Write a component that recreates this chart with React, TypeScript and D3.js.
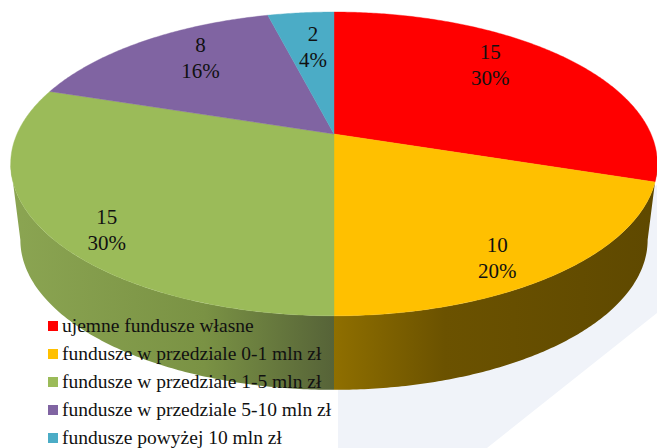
import React from 'react';
import * as d3 from 'd3';

const categories = [
  'ujemne fundusze własne',
  'fundusze w przedziale 0-1 mln zł',
  'fundusze w przedziale 1-5 mln zł',
  'fundusze w przedziale 5-10 mln zł',
  'fundusze powyżej 10 mln zł',
];
const counts = [15, 10, 15, 8, 2];
const percents = ['30%', '20%', '30%', '16%', '4%'];
const colors = ['#ff0000', '#ffc000', '#9bbb59', '#8064a2', '#4bacc6'];

const width = 657;
const height = 448;

// tilted disc: unit circle through a perspective map, apex sits above the ellipse centre
const apex = { x: 334, y: 134 };
const persp = { a: 317, b: 146, k: -0.197 };
const rim = { top: 164, bottom: 240, sx: 0.97, sy: 0.987 };

const project = (angle: number, r = 1): [number, number] => {
  const u = r * Math.sin(angle);
  const v = -r * Math.cos(angle);
  const w = 1 + persp.k * v;
  return [apex.x + (persp.a * u) / w, apex.y + (persp.b * v) / w];
};

const projectBottom = (angle: number): [number, number] => {
  const [x, y] = project(angle);
  return [apex.x + (x - apex.x) * rim.sx, rim.bottom + (y - rim.top) * rim.sy];
};

const line = d3.line();

const arcPoints = (from: number, to: number, fn: (a: number) => [number, number]) => {
  const n = Math.max(2, Math.ceil((to - from) / 0.01));
  return d3.range(n + 1).map((i) => fn(from + ((to - from) * i) / n));
};

const pie = d3.pie<number>().sort(null);
const arcs = pie(counts);

// angle of the widest point of the ellipse, where the side wall starts
const sideAngle = Math.acos(persp.k);

// label nudges away from the projected centroid
const labelOffsets = [
  [8, -12],
  [35, 50],
  [-56, 46],
  [-10, -8],
  [1, 0],
];

const legendX = 48;
const legendY = 321;
const legendStep = 28;

export default function App() {
  // only the yellow and green sides are visible
  const walls = [
    { i: 1, from: sideAngle, to: arcs[1].endAngle, fill: 'url(#wallYellow)' },
    { i: 2, from: arcs[2].startAngle, to: 2 * Math.PI - sideAngle, fill: 'url(#wallGreen)' },
  ];

  return (
    <svg
      width={width}
      height={height}
      style={{ position: 'absolute', left: 0, top: 0, background: '#fff' }}
      fontFamily="'Liberation Serif', serif"
    >
      <defs>
        <linearGradient id="wallYellow" gradientUnits="userSpaceOnUse" x1={334} x2={650} y1={0} y2={0}>
          <stop offset="0" stopColor="#8f6f00" />
          <stop offset="0.35" stopColor="#6b5200" />
          <stop offset="1" stopColor="#5f4900" />
        </linearGradient>
        <linearGradient id="wallGreen" gradientUnits="userSpaceOnUse" x1={10} x2={334} y1={0} y2={0}>
          <stop offset="0" stopColor="#8ba552" />
          <stop offset="0.6" stopColor="#7a9244" />
          <stop offset="1" stopColor="#566338" />
        </linearGradient>
      </defs>

      <polygon points="338,380 657,185 657,313 487,448 338,448" fill="#f0f3f9" />

      {walls.map((w) => (
        <path
          key={w.i}
          fill={w.fill}
          d={
            line([
              ...arcPoints(w.from, w.to, (a) => project(a)),
              ...arcPoints(w.from, w.to, projectBottom).reverse(),
            ]) + 'Z'
          }
        />
      ))}

      {arcs.map((d, i) => (
        <path
          key={i}
          fill={colors[i]}
          stroke={colors[i]}
          strokeWidth={0.4}
          d={
            line([
              [apex.x, apex.y],
              ...arcPoints(d.startAngle, d.endAngle, (a) => project(a)),
            ]) + 'Z'
          }
        />
      ))}

      {arcs.map((d, i) => {
        const [cx, cy] = project((d.startAngle + d.endAngle) / 2, 0.62);
        const x = cx + labelOffsets[i][0];
        const y = cy + labelOffsets[i][1];
        return (
          <text key={i} x={x} fontSize={21} textAnchor="middle" fill="#111">
            <tspan x={x} y={y - 13}>
              {counts[i]}
            </tspan>
            <tspan x={x} y={y + 13}>
              {percents[i]}
            </tspan>
          </text>
        );
      })}

      {categories.map((c, i) => (
        <g key={c} transform={`translate(${legendX},${legendY + i * legendStep})`}>
          <rect width={10} height={10} fill={colors[i]} />
          <text x={14} y={11} fontSize={19.5} fill="#111">
            {c}
          </text>
        </g>
      ))}
    </svg>
  );
}
